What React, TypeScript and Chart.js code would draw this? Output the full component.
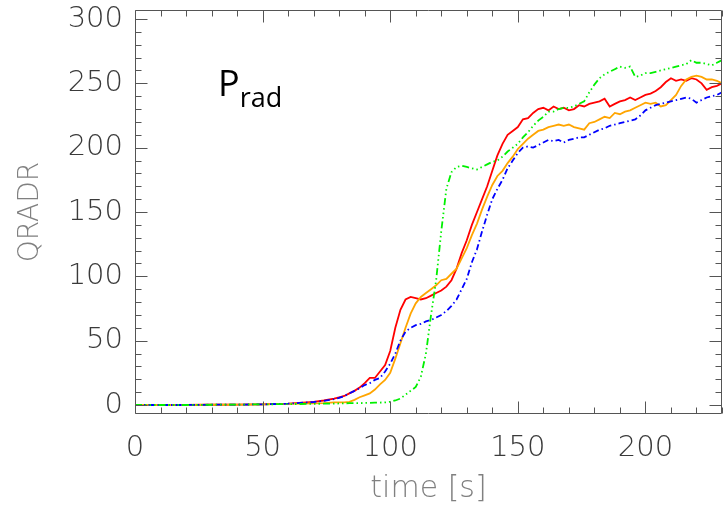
import React, { useEffect, useRef } from 'react';
import { Chart, registerables } from 'chart.js';

Chart.register(...registerables);

// time samples [s]
const timeS = [
  0, 10, 20, 30, 40, 50, 60, 70, 74, 78,
  80, 82, 84, 86, 88, 90, 92, 94, 96, 98,
  100, 102, 104, 106, 108, 110, 112, 114, 116, 118,
  120, 122, 124, 126, 128, 130, 132, 134, 136, 138,
  140, 142, 144, 146, 148, 150, 152, 154, 156, 158,
  160, 162, 164, 166, 168, 170, 172, 174, 176, 178,
  180, 182, 184, 186, 188, 190, 192, 194, 196, 198,
  200, 202, 204, 206, 208, 210, 212, 214, 216, 218,
  220, 222, 224, 226, 228, 230,
];

const redQ = [
  0, 0, 0, 0.2, 0.3, 0.5, 1, 2.5, 3.5, 5,
  6, 7, 9, 11, 13.5, 17, 21, 21, 26, 31,
  42, 60, 74, 82, 84, 83, 82, 83, 85, 87,
  89, 92, 97, 106, 118, 128, 140, 150, 160, 170,
  182, 194, 203, 210, 213, 216, 222, 223, 227, 230,
  231, 229, 232, 230, 231, 229, 230, 233, 232, 234,
  235, 236, 238, 232, 234, 236, 237, 239, 237, 239,
  241, 242, 244, 247, 251, 254, 252, 253, 252, 254,
  253, 250, 245, 247, 248, 250,
];

const orangeQ = [
  0, 0, 0, 0.2, 0.3, 0.5, 0.8, 1.2, 1.5, 2,
  2, 2, 2.5, 4, 6, 7.5, 9, 12, 16, 19.5,
  25, 36, 48, 60, 71, 79, 84, 87, 90, 93,
  97, 98, 102, 106, 114, 122, 132, 141, 152, 162,
  171, 178, 182, 188, 193, 199, 203, 207, 210, 213,
  214, 216, 217, 218, 217, 218, 216, 215, 214, 219,
  220, 222, 224, 223, 227, 226, 228, 229, 231, 233,
  235, 234, 235, 232, 233, 237, 241, 248, 253, 255,
  256, 255, 253, 253, 252, 250,
];

const blueQ = [
  0, 0, 0, 0.2, 0.3, 0.5, 1, 2.3, 3.2, 4.5,
  5.5, 7, 9, 11, 13, 15.5, 17, 19.5, 21, 26,
  32, 40, 50, 57, 60, 62, 63, 65, 66, 68,
  70, 73, 77, 82, 90, 98, 111, 121, 135, 148,
  160, 168, 175, 184, 190, 196, 200, 201, 200, 202,
  204, 206, 205, 206, 204, 206, 207, 208, 208, 210,
  212, 214, 215, 217, 218, 219, 220, 221, 222, 225,
  229, 231, 233, 234, 235, 236, 237, 238, 239, 238,
  235, 237, 239, 240, 241, 243,
];

const greenQ = [
  0, 0, 0, 0.2, 0.3, 0.5, 0.7, 0.9, 1, 1,
  1.2, 1.3, 1.4, 1.5, 1.5, 1.6, 1.7, 1.8, 1.9, 2,
  2.5, 3.5, 5, 8, 11, 14, 22, 40, 70, 97,
  135, 168, 181, 185, 186, 185, 184, 183, 185, 187,
  189, 190, 193, 197, 200, 203, 208, 212, 217, 221,
  224, 228, 228, 230, 231, 231, 232, 234, 236, 243,
  249, 254, 257, 259, 261, 263, 262, 263, 255, 256,
  258, 258, 259, 260, 261, 262, 263, 264, 265, 268,
  266, 266, 265, 264, 266, 268,
];

const xMajorTicks = [0, 50, 100, 150, 200];
const yMajorTicks = [0, 50, 100, 150, 200, 250, 300];

const toPoints = (vals: number[]) => timeS.map((t, i) => ({ x: t, y: vals[i] }));

const framePlugin = {
  id: 'idlFrame',
  afterDatasetsDraw(chart: any) {
    const { ctx, chartArea, scales } = chart;
    const { left, right, top, bottom } = chartArea;
    const xs = scales.x;
    const ys = scales.y;
    ctx.save();
    ctx.strokeStyle = '#555';
    ctx.lineWidth = 1;
    const L = Math.round(left) + 0.5;
    const R = Math.round(right) - 0.5;
    const T = Math.round(top) + 0.5;
    const B = Math.round(bottom) - 0.5;
    ctx.beginPath();
    ctx.rect(L, T, R - L, B - T);
    for (let v = 0; v <= 230; v += 10) {
      const p = Math.round(xs.getPixelForValue(v)) + 0.5;
      const len = v % 50 === 0 ? 12 : 6;
      ctx.moveTo(p, B);
      ctx.lineTo(p, B - len);
      ctx.moveTo(p, T);
      ctx.lineTo(p, T + len);
    }
    for (let v = 0; v <= 300; v += 10) {
      const p = Math.round(ys.getPixelForValue(v)) + 0.5;
      const len = v % 50 === 0 ? 12 : 6;
      ctx.moveTo(L, p);
      ctx.lineTo(L + len, p);
      ctx.moveTo(R, p);
      ctx.lineTo(R - len, p);
    }
    ctx.stroke();

    // axis titles
    ctx.fillStyle = '#808080';
    ctx.font = '200 28px "DejaVu Sans"';
    ctx.textAlign = 'center';
    ctx.textBaseline = 'middle';
    ctx.save();
    ctx.translate(31, 212);
    ctx.rotate(-Math.PI / 2);
    ctx.fillText('QRADR', 0, 0);
    ctx.restore();
    ctx.font = '200 30px "DejaVu Sans"';
    ctx.textBaseline = 'alphabetic';
    ctx.fillText('time [s]', (left + right) / 2, 497);

    // label
    ctx.fillStyle = '#000';
    ctx.textAlign = 'left';
    ctx.font = '36px "Open Sans"';
    ctx.fillText('P', 218, 96);
    const pw = ctx.measureText('P').width;
    ctx.font = '27px "Open Sans"';
    ctx.fillText('rad', 218 + pw, 107);
    ctx.restore();
  },
};

export default function App() {
  const ref = useRef<HTMLCanvasElement>(null);
  useEffect(() => {
    document.body.style.margin = '0';
    const canvas = ref.current;
    if (!canvas) return;
    const tickFont = { family: '"DejaVu Sans"', size: 29, weight: '200' as any };
    const chart = new Chart(canvas, {
      type: 'line',
      data: {
        datasets: [
          { label: 'green', data: toPoints(greenQ), borderColor: '#00f000', borderWidth: 1.8, borderDash: [7, 3, 1.5, 3, 1.5, 3, 1.5, 3], pointRadius: 0, fill: false, tension: 0 },
          { label: 'blue', data: toPoints(blueQ), borderColor: '#0000ff', borderWidth: 1.8, borderDash: [6, 3, 1.5, 3], pointRadius: 0, fill: false, tension: 0 },
          { label: 'orange', data: toPoints(orangeQ), borderColor: '#ffa500', borderWidth: 1.8, pointRadius: 0, fill: false, tension: 0 },
          { label: 'red', data: toPoints(redQ), borderColor: '#ff0000', borderWidth: 1.8, pointRadius: 0, fill: false, tension: 0 },
        ],
      },
      options: {
        responsive: false,
        animation: false,
        layout: { padding: { top: 10, right: 1, left: 0, bottom: 0 } },
        plugins: { legend: { display: false }, tooltip: { enabled: false } },
        scales: {
          x: {
            type: 'linear',
            min: 0,
            max: 230,
            grid: { display: false, drawTicks: false },
            border: { display: false },
            afterBuildTicks: (s: any) => { s.ticks = xMajorTicks.map((v) => ({ value: v })); },
            afterFit: (s: any) => { s.height = 91; s.paddingLeft = 0; s.paddingRight = 0; },
            ticks: { font: tickFont, color: '#3a3a3a', padding: 17, maxRotation: 0, autoSkip: false },
          },
          y: {
            type: 'linear',
            min: -7,
            max: 307,
            grid: { display: false, drawTicks: false },
            border: { display: false },
            afterBuildTicks: (s: any) => { s.ticks = yMajorTicks.map((v) => ({ value: v })); },
            afterFit: (s: any) => { s.width = 135; s.paddingTop = 0; s.paddingBottom = 0; },
            ticks: { font: tickFont, color: '#3a3a3a', padding: 12, autoSkip: false },
          },
        },
      },
      plugins: [framePlugin],
    });
    return () => chart.destroy();
  }, []);
  return <canvas ref={ref} width={723} height={505} style={{ display: 'block' }} />;
}
